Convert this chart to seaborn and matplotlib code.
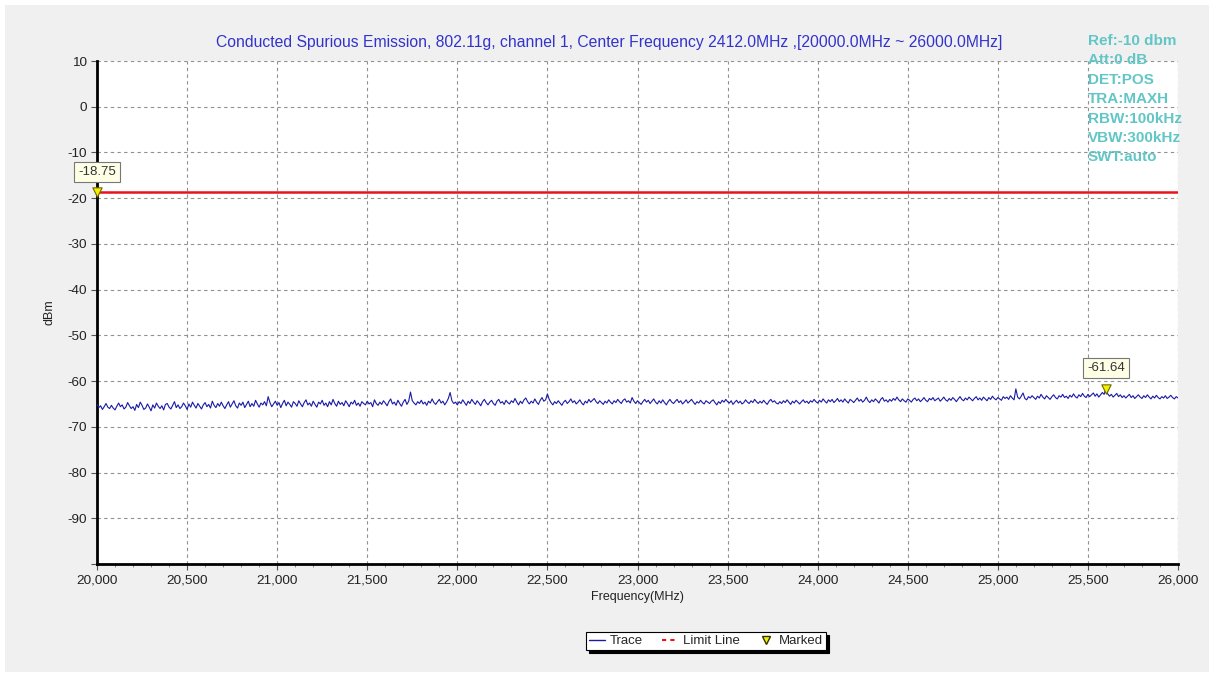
import matplotlib
matplotlib.use("Agg")
import matplotlib.pyplot as plt
from matplotlib.lines import Line2D
from matplotlib.patches import Rectangle
from matplotlib.ticker import MultipleLocator, FuncFormatter
import numpy as np
import pandas as pd
import seaborn as sns

TITLE = ("Conducted Spurious Emission, 802.11g, channel 1, Center Frequency 2412.0MHz "
         ",[20000.0MHz ~ 26000.0MHz]")
INFO_LINES = ["Ref:-10 dbm", "Att:0 dB", "DET:POS", "TRA:MAXH",
              "RBW:100kHz", "VBW:300kHz", "SWT:auto"]

FREQ_START = 20000
FREQ_STEP  = 10
LIMIT_DBM  = -18.75

# trace, one value every 10 MHz (one row = 100 MHz)
trace_dbm = [
    -65.1, -65.8, -65.4, -66.2, -65.6, -64.9, -65.7, -66.0, -65.3, -65.9,
    -66.3, -65.5, -64.8, -65.6, -65.2, -66.1, -65.7, -64.7, -65.4, -66.0,
    -65.6, -66.4, -65.1, -65.8, -64.6, -65.3, -66.2, -65.9, -65.0, -65.7,
    -66.5, -65.2, -65.9, -64.8, -65.5, -66.0, -65.4, -66.3, -65.1, -64.9,
    -65.7, -66.1, -65.3, -64.5, -65.8, -65.2, -66.0, -65.6, -64.8, -65.4,
    -66.2, -65.0, -65.7, -64.6, -65.3, -65.9, -64.9, -65.5, -66.1, -65.2,
    -64.7, -65.6, -65.1, -65.9, -64.4, -65.3, -65.8, -64.9, -65.5, -64.6,
    -65.4, -66.0, -65.2, -64.5, -65.7, -65.0, -64.3, -65.4, -65.9, -64.8,
    -65.3, -64.6, -65.8, -65.1, -64.4, -65.6, -64.9, -65.5, -64.2, -65.0,
    -65.7, -64.8, -65.2, -64.5, -65.4, -63.4, -64.7, -65.6, -65.0, -64.4,
    -65.3, -64.7, -65.8, -64.9, -64.2, -65.4, -64.6, -65.1, -65.7, -64.5,
    -64.9, -65.5, -64.3, -65.0, -65.6, -64.7, -64.1, -65.2, -64.8, -65.5,
    -64.4, -65.1, -65.7, -64.6, -65.0, -64.2, -65.3, -64.8, -65.6, -64.5,
    -65.2, -64.0, -64.9, -65.5, -64.4, -65.1, -64.7, -65.4, -64.3, -64.9,
    -65.6, -64.6, -65.0, -64.2, -65.3, -64.8, -65.5, -64.5, -64.9, -65.2,
    -64.4, -65.0, -64.7, -65.6, -64.1, -64.9, -65.3, -64.6, -65.1, -64.3,
    -64.8, -65.4, -64.5, -63.9, -65.0, -64.6, -65.3, -64.2, -64.9, -65.5,
    -64.6, -64.0, -65.1, -64.4, -62.4, -64.3, -64.8, -65.2, -64.5, -64.9,
    -64.2, -65.0, -64.6, -65.3, -64.4, -64.8, -63.9, -64.7, -65.1, -64.5,
    -64.0, -64.8, -64.4, -65.2, -64.6, -63.8, -62.5, -64.3, -64.9, -64.6,
    -65.2, -64.5, -64.9, -64.1, -64.7, -65.3, -64.4, -64.9, -64.0, -64.6,
    -65.1, -64.3, -64.8, -65.4, -64.5, -64.0, -64.7, -65.2, -64.6, -64.2,
    -64.9, -65.3, -64.4, -64.0, -64.8, -64.5, -65.1, -64.2, -64.7, -65.0,
    -64.3, -64.7, -63.8, -64.6, -65.2, -64.4, -64.9, -64.1, -63.7, -64.5,
    -65.0, -64.4, -64.8, -63.9, -64.6, -65.1, -64.2, -63.6, -64.4, -64.1,
    -62.8, -64.0, -64.7, -65.2, -64.5, -64.9, -64.3, -64.8, -65.3, -64.6,
    -64.2, -64.9, -64.5, -63.9, -64.7, -64.3, -65.0, -64.6, -64.1, -64.8,
    -65.2, -64.4, -64.8, -64.0, -64.6, -64.2, -63.8, -64.5, -64.9, -64.3,
    -64.7, -65.1, -64.4, -64.8, -64.1, -64.6, -65.0, -64.3, -64.7, -64.0,
    -64.5, -64.9, -64.2, -63.9, -64.6, -64.3, -64.8, -63.6, -64.4, -64.9,
    -64.3, -64.7, -65.1, -64.5, -64.0, -64.6, -64.2, -64.9, -64.4, -63.9,
    -64.6, -65.0, -64.3, -64.8, -64.1, -64.7, -65.2, -64.5, -64.0, -64.6,
    -64.9, -64.4, -64.0, -64.7, -64.3, -65.0, -64.6, -64.1, -64.8, -64.4,
    -64.0, -64.6, -65.1, -64.5, -64.8, -64.2, -64.7, -65.0, -64.3, -64.6,
    -64.9, -64.4, -64.1, -64.7, -65.2, -64.5, -64.9, -64.2, -64.6, -64.0,
    -64.5, -64.8, -64.3, -65.1, -64.6, -64.2, -64.8, -64.4, -65.0, -64.7,
    -64.1, -64.6, -64.9, -64.3, -64.7, -64.0, -64.5, -64.9, -64.4, -64.8,
    -64.2, -64.7, -65.1, -64.4, -64.0, -64.6, -64.3, -64.8, -65.0, -64.5,
    -64.9, -64.3, -64.7, -64.1, -64.6, -65.1, -64.4, -64.8, -64.2, -64.6,
    -65.0, -64.5, -64.1, -64.7, -64.4, -64.9, -64.3, -64.6, -64.0, -64.5,
    -64.8, -64.2, -64.6, -63.9, -64.4, -64.8, -64.1, -64.5, -64.0, -64.7,
    -64.3, -63.8, -64.5, -64.1, -64.6, -63.9, -64.4, -64.8, -64.0, -64.3,
    -64.7, -64.2, -63.7, -64.4, -64.0, -64.6, -64.2, -63.5, -64.3, -64.7,
    -64.1, -64.5, -63.9, -64.3, -64.8, -64.0, -63.6, -64.4, -64.1, -64.6,
    -64.0, -64.4, -63.8, -64.2, -63.5, -64.1, -64.5, -63.9, -64.3, -64.6,
    -63.9, -64.2, -64.6, -64.0, -63.7, -64.3, -63.9, -64.5, -64.1, -63.6,
    -64.2, -64.5, -63.8, -64.1, -63.6, -64.3, -64.0, -63.7, -64.4, -64.0,
    -63.5, -64.1, -64.4, -63.8, -64.2, -63.6, -64.0, -64.5, -63.9, -63.4,
    -64.0, -64.3, -63.7, -64.1, -63.5, -63.9, -64.3, -63.8, -63.4, -64.1,
    -63.7, -64.2, -63.5, -63.9, -64.3, -63.6, -64.0, -63.3, -63.8, -64.1,
    -63.6, -63.9, -64.2, -63.4, -63.8, -63.5, -64.0, -63.2, -63.7, -64.1,
    -61.7, -63.5, -63.9, -63.3, -62.6, -63.8, -64.1, -63.4, -63.7, -63.2,
    -63.6, -64.0, -63.3, -63.7, -62.9, -63.5, -63.9, -63.2, -63.6, -64.0,
    -63.4, -63.0, -63.6, -63.9, -63.2, -63.5, -62.9, -63.6, -63.3, -63.8,
    -63.1, -63.5, -62.8, -63.4, -63.7, -63.0, -63.4, -62.7, -63.3, -63.6,
    -62.9, -63.4, -63.0, -62.6, -63.3, -62.8, -63.5, -63.0, -62.5, -62.9,
    -61.64, -62.8, -63.3, -62.9, -63.5, -63.1, -62.7, -63.4, -63.0, -63.6,
    -63.2, -63.7, -63.3, -62.9, -63.6, -63.2, -63.8, -63.4, -63.0, -63.5,
    -63.8, -63.2, -63.6, -63.0, -63.5, -63.9, -63.3, -63.7, -63.1, -63.6,
    -63.9, -63.4, -63.7, -63.2, -63.8, -63.5, -63.1, -63.6, -63.9, -63.4,
    -63.7,
]

marker_freq = [20000, 25600]
marker_dbm  = [-18.75, -61.64]
marker_text = ["-18.75", "-61.64"]

freq = FREQ_START + FREQ_STEP * np.arange(len(trace_dbm))
df = pd.DataFrame({"freq": freq, "dbm": trace_dbm})
limit_df = pd.DataFrame({"freq": [freq[0], freq[-1]], "dbm": [LIMIT_DBM, LIMIT_DBM]})

sns.set_style("white")
plt.rcParams["font.family"] = ["Liberation Sans", "DejaVu Sans"]

TRACE_C = "#1a1aa6"
LIMIT_C = "#e8141c"
INFO_C  = "#62c6c6"
TEXT_C  = "#222222"

fig = plt.figure(figsize=(12.14, 6.77), dpi=100, facecolor="white")
fig.patches.append(Rectangle((5 / 1214, 5 / 677), 1204 / 1214, 667 / 677,
                             transform=fig.transFigure, facecolor="#f0f0f0",
                             edgecolor="none", zorder=-10))
ax = fig.add_axes([97 / 1214, 1 - 564 / 677, (1178 - 97) / 1214, (564 - 61) / 677])
ax.set_facecolor("white")

sns.lineplot(data=df, x="freq", y="dbm", ax=ax, color=TRACE_C, lw=0.8, zorder=3)
sns.lineplot(data=limit_df, x="freq", y="dbm", ax=ax, color=LIMIT_C, lw=1.8, zorder=4)
ax.scatter(marker_freq, marker_dbm, marker="v", s=45, color="#f4f000",
           edgecolor="#6b6b00", linewidth=0.8, zorder=6, clip_on=False)

box = dict(boxstyle="square,pad=0.3", facecolor="#ffffe6", edgecolor="#777777", lw=0.8)
for fx, fy, txt in zip(marker_freq, marker_dbm, marker_text):
    ax.annotate(txt, (fx, fy), xytext=(0, 14.5), textcoords="offset points",
                ha="center", va="center", fontsize=9.5, color="#333333", bbox=box,
                zorder=7, annotation_clip=False)

ax.set_xlim(20000, 26000)
ax.set_ylim(-100, 10)
ax.xaxis.set_major_locator(MultipleLocator(500))
ax.xaxis.set_minor_locator(MultipleLocator(100))
ax.yaxis.set_major_locator(MultipleLocator(10))
ax.xaxis.set_major_formatter(FuncFormatter(lambda v, p: f"{int(v):,}"))
ax.yaxis.set_major_formatter(FuncFormatter(lambda v, p: "" if v <= -100 else f"{int(v)}"))
ax.grid(True, which="major", ls=(0, (3, 3)), color="#909090", lw=0.8)
ax.tick_params(axis="both", which="major", direction="out", length=4, width=0.8,
               labelsize=9.7, labelcolor=TEXT_C, color="#555555", left=True, bottom=True)
ax.tick_params(axis="x", which="minor", direction="out", length=2.5, width=0.6,
               color="#777777", bottom=True)

for side in ["top", "right"]:
    ax.spines[side].set_visible(False)
for side in ["left", "bottom"]:
    ax.spines[side].set_color("black")
    ax.spines[side].set_linewidth(2)

ax.set_xlabel("Frequency(MHz)", fontsize=9, color=TEXT_C, labelpad=3)
ax.set_ylabel("dBm", fontsize=9, color=TEXT_C, labelpad=8)

fig.text(609 / 1214, 1 - 43 / 677, TITLE, ha="center", va="center",
         fontsize=11.3, color="#3333cc")

for i, line in enumerate(INFO_LINES):
    fig.text(1088 / 1214, 1 - (41 + i * 19.4) / 677, line, ha="left", va="center",
             fontsize=11, fontweight="bold", color=INFO_C)

handles = [
    Line2D([], [], color=TRACE_C, lw=1),
    Line2D([], [], color=LIMIT_C, lw=1.5, ls=(0, (2, 2))),
    Line2D([], [], color="none", marker="v", markersize=6,
           markerfacecolor="#f4f000", markeredgecolor="#333300"),
]
leg = fig.legend(handles, ["Trace", "Limit Line", "Marked"], ncol=3,
                 loc="center", bbox_to_anchor=(706 / 1214, 1 - 641 / 677),
                 fontsize=9.5, frameon=True, fancybox=False,
                 shadow={"color": "black", "alpha": 1},
                 edgecolor="black", framealpha=1, handlelength=1.2,
                 handletextpad=0.4, columnspacing=1.4, borderpad=0.2)
leg.get_frame().set_linewidth(0.8)

fig.savefig("out.png", dpi=100, facecolor="white")
